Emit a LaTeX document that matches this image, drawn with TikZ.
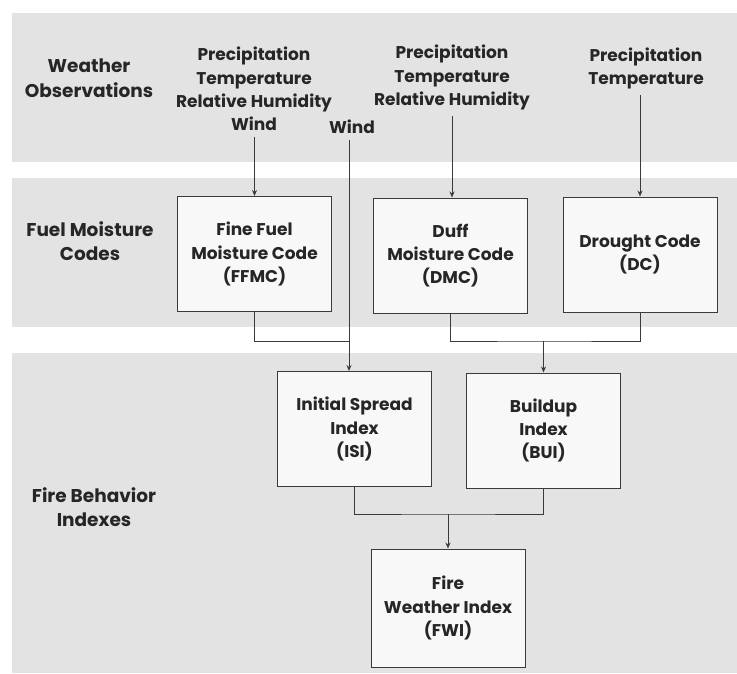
\documentclass[tikz,border=0pt]{standalone}
\usepackage{fontspec}
\setmainfont{Poppins}
\usetikzlibrary{arrows.meta}
\definecolor{bandgray}{HTML}{E3E3E3}
\definecolor{boxfill}{HTML}{F8F8F8}
\definecolor{linegray}{HTML}{3A3A3A}
\tikzset{
  band/.style={fill=bandgray, draw=none},
  codebox/.style={draw=linegray, line width=1pt, fill=boxfill, minimum width=154pt, minimum height=115pt, align=center, font=\fontsize{17}{23.3}\selectfont\bfseries, text=black!85},
  lbl/.style={align=center, font=\fontsize{17}{23.3}\selectfont\bfseries, text=black!85},
  rowlbl/.style={align=center, font=\fontsize{18.5}{24.5}\selectfont\bfseries, text=black!85},
  wire/.style={draw=linegray, line width=0.9pt},
  arr/.style={wire, -{Stealth[length=6pt,width=5pt]}},
}
\begin{document}
\begin{tikzpicture}[x=1pt,y=-1pt]
    \useasboundingbox[fill=white] (0,0) rectangle (737,673);
    % bands
    \fill[band] (12,13) rectangle (737,162);
    \fill[band] (12,178) rectangle (737,327);
    \fill[band] (12,353) rectangle (737,673);
    % row titles
    \node[rowlbl] (weather) at (89,78) {Weather\\Observations};
    \node[rowlbl] (fuel) at (90,241) {Fuel Moisture\\Codes};
    \node[rowlbl] (behavior) at (94,507) {Fire Behavior\\Indexes};
    % inputs
    \node[lbl, inner sep=6pt] (inffmc) at (254,89) {Precipitation\\Temperature\\Relative Humidity\\Wind};
    \node[lbl, inner sep=6pt] (indmc) at (452,77.5) {Precipitation\\Temperature\\Relative Humidity};
    \node[lbl, inner sep=6pt] (indc) at (646,68.5) {Precipitation\\Temperature};
    \node[lbl, inner sep=6pt] (wind) at (352,127) {Wind};
    % boxes
    \node[codebox] (ffmc) at (254.5,254) {Fine Fuel\\Moisture Code\\(FFMC)};
    \node[codebox] (dmc) at (450.5,255.5) {Duff\\Moisture Code\\(DMC)};
    \node[codebox] (dc) at (640,254.5) {Drought Code\\(DC)};
    \node[codebox] (isi) at (354.5,429) {Initial Spread\\Index\\(ISI)};
    \node[codebox] (bui) at (543.5,430.5) {Buildup\\Index\\(BUI)};
    \node[codebox, minimum height=118pt] (fwi) at (448,608) {Fire\\Weather Index\\(FWI)};
    % junctions
    \coordinate (j1) at (349,341);
    \coordinate (j2) at (543.5,341);
    \coordinate (j3) at (448,514);
    % connectors
    \draw[arr] (inffmc.south -| ffmc.north) -- (ffmc.north);
    \draw[arr] (indmc.south) -- (indmc.south |- dmc.north);
    \draw[arr] (indc.south -| dc.north) -- (dc.north);
    \draw[arr] (wind.south -| j1) -- (j1 |- isi.north);
    \draw[wire] (ffmc.south) |- (j1);
    \draw[wire] (dmc.south) |- (j2) -| (dc.south);
    \draw[arr] (j2) -- (bui.north);
    \draw[wire] (isi.south) |- (j3) -| (bui.south);
    \draw[arr] (j3) -- (fwi.north);
\end{tikzpicture}
\end{document}
